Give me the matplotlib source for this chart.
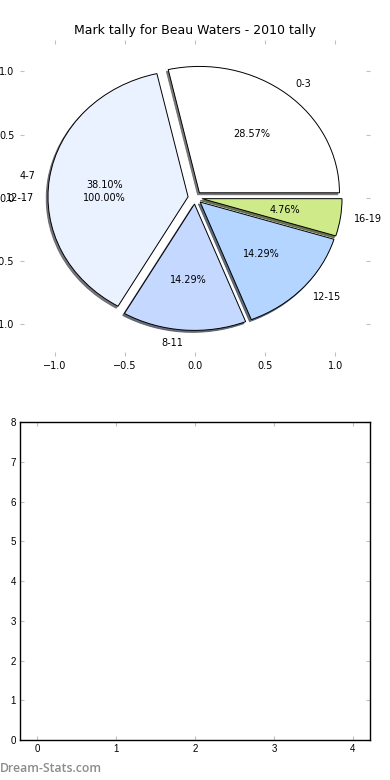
import matplotlib
matplotlib.use("Agg")
import matplotlib.pyplot as plt

# Data
GROUPS = ["0-3", "4-7", "8-11", "12-15", "16-19"]
COUNTS = [6, 8, 3, 3, 1]
COLOURS = ["#ffffff", "#eaf1ff", "#c5d8ff", "#b3d5ff", "#cfea88"]
EXTRA_GROUP = ["12-17"]
EXTRA_COUNT = [1]
TITLE = "Mark tally for Beau Waters - 2010 tally"
PIE_TICKS = [-1.0, -0.5, 0.0, 0.5, 1.0]
BAR_XTICKS = [0, 1, 2, 3, 4]
BAR_YTICKS = [0, 1, 2, 3, 4, 5, 6, 7, 8]

fig = plt.figure(figsize=(3.9, 7.8), dpi=100)

# Pie chart (old style: no equal aspect, ticks kept, no frame)
ax1 = fig.add_axes([0.051, 0.544, 0.898, 0.405])
ax1.pie(
    COUNTS, labels=GROUPS, colors=COLOURS, explode=[0.05] * len(COUNTS),
    autopct="%1.2f%%", startangle=0,
    shadow={"ox": -0.009, "oy": -0.011, "shade": 0.6, "alpha": 0.85},
    wedgeprops={"edgecolor": "black", "linewidth": 0.7},
    textprops={"fontsize": 7},
)
ax1.pie(
    EXTRA_COUNT, labels=EXTRA_GROUP, explode=[0.05], autopct="%1.2f%%",
    wedgeprops={"fill": False, "linewidth": 0},
    textprops={"fontsize": 7},
)
ax1.set_aspect("auto")
ax1.set_frame_on(False)
ax1.set_xlim(-1.25, 1.25)
ax1.set_ylim(-1.25, 1.25)
ax1.set_xticks(PIE_TICKS)
ax1.set_yticks(PIE_TICKS)
ax1.tick_params(direction="in", length=3, color="#c0c0c0", top=True, right=True,
                labelsize=7, pad=4)
ax1.set_title(TITLE, fontsize=9, pad=4)

# Empty second panel
ax2 = fig.add_axes([0.051, 0.051, 0.898, 0.408])
ax2.set_xlim(-0.22, 4.22)
ax2.set_ylim(0, 8)
ax2.set_xticks(BAR_XTICKS)
ax2.set_yticks(BAR_YTICKS)
ax2.tick_params(direction="in", length=3, color="#c0c0c0", top=True, right=True,
                labelsize=7, pad=3)
for lbl in ax2.get_xticklabels() + ax2.get_yticklabels():
    lbl.set_family("Liberation Sans")
for sp in ax2.spines.values():
    sp.set_linewidth(1.0)

fig.text(0.0, 0.007, "Dream-Stats.com", fontsize=8.8, color="#8c8c8c",
         family="Open Sans", fontweight="semibold", ha="left", va="bottom")

fig.savefig("out.png", dpi=100)
